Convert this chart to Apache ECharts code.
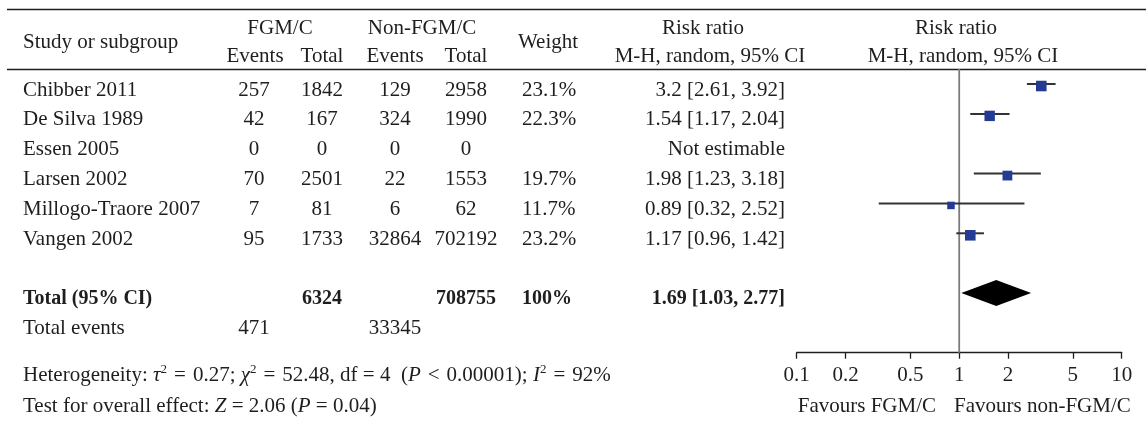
<!DOCTYPE html>
<html>
<head>
<meta charset="utf-8">
<script src="https://cdn.jsdelivr.net/npm/echarts@6/dist/echarts.min.js"></script>
<style>
  html, body { margin: 0; padding: 0; background: #ffffff; }
  #chart { width: 1146px; height: 424px; }
</style>
</head>
<body>
<div id="chart"></div>
<script>
// ---- Study data (risk ratio, M-H random effects) ----
const studies    = ['Chibber 2011', 'De Silva 1989', 'Essen 2005', 'Larsen 2002', 'Millogo-Traore 2007', 'Vangen 2002'];
const fgmEvents  = [257, 42, 0, 70, 7, 95];
const fgmTotal   = [1842, 167, 0, 2501, 81, 1733];
const nonEvents  = [129, 324, 0, 22, 6, 32864];
const nonTotal   = [2958, 1990, 0, 1553, 62, 702192];
const weights    = [23.1, 22.3, null, 19.7, 11.7, 23.2];
const rrEst      = [3.2, 1.54, null, 1.98, 0.89, 1.17];
const rrLow      = [2.61, 1.17, null, 1.23, 0.32, 0.96];
const rrHigh     = [3.92, 2.04, null, 3.18, 2.52, 1.42];

// Pooled estimate and totals
const pooledEst  = 1.69;
const pooledLow  = 1.03;
const pooledHigh = 2.77;
const totalFgm   = 6324;
const totalNon   = 708755;
const totalWeight = 100;
const eventsFgm  = 471;
const eventsNon  = 33345;

// Axis ticks of the forest plot
const tickValues = [0.1, 0.2, 0.5, 1, 2, 5, 10];

// ---- Layout ----
const FONT = 'Liberation Serif';
const FS = 21;
const FS_BOLD = 20;
const INK = '#1e1e1e';
const ROW_TOTAL = 8;
const ROW_EVENTS = 9;
const TEXT_DY = 6;          // table text sits slightly below the marker line
const GRID_TOP = 69.1;
const GRID_BOTTOM = 71.3;
const Y_MIN = 0.5, Y_MAX = 10;
const REG = FS + 'px "' + FONT + '"';

// column anchors in the table grid (x units = pixels)
const COL = {
  name:   { x: 23,  align: 'left' },
  fgmE:   { x: 254, align: 'center' },
  fgmT:   { x: 322, align: 'center' },
  nonE:   { x: 395, align: 'center' },
  nonT:   { x: 466, align: 'center' },
  weight: { x: 522, align: 'left' },
  rr:     { x: 785, align: 'right' }
};

const rows = studies.map((_, i) => i + 1);

function fmtCI(e, l, h) { return e + ' [' + l + ', ' + h + ']'; }

// Build the text cells of one column: [x, row, text, bold]
function column(key, values, extra) {
  const cells = values.map((v, i) => [COL[key].x, rows[i], v === null ? '' : String(v), 0]);
  (extra || []).forEach(e => cells.push([COL[key].x, e[0], String(e[1]), e[2] ? 1 : 0]));
  return cells;
}

const tableColumns = [
  { key: 'name',   data: column('name', studies, [[ROW_TOTAL, 'Total (95% CI)', true], [ROW_EVENTS, 'Total events', false]]) },
  { key: 'fgmE',   data: column('fgmE', fgmEvents, [[ROW_EVENTS, eventsFgm, false]]) },
  { key: 'fgmT',   data: column('fgmT', fgmTotal, [[ROW_TOTAL, totalFgm, true]]) },
  { key: 'nonE',   data: column('nonE', nonEvents, [[ROW_EVENTS, eventsNon, false]]) },
  { key: 'nonT',   data: column('nonT', nonTotal, [[ROW_TOTAL, totalNon, true]]) },
  { key: 'weight', data: column('weight', weights.map(w => w === null ? null : w + '%'), [[ROW_TOTAL, totalWeight + '%', true]]) },
  { key: 'rr',     data: column('rr', rrEst.map((e, i) => e === null ? 'Not estimable' : fmtCI(e, rrLow[i], rrHigh[i])),
                                [[ROW_TOTAL, fmtCI(pooledEst, pooledLow, pooledHigh), true]]) }
];

const textSeries = tableColumns.map(col => ({
  type: 'custom',
  xAxisIndex: 0, yAxisIndex: 0,
  silent: true,
  data: col.data,
  renderItem(params, api) {
    const p = api.coord([api.value(0), api.value(1)]);
    const d = col.data[params.dataIndex];
    return {
      type: 'text',
      x: p[0], y: p[1] + TEXT_DY,
      style: {
        text: d[2],
        fill: INK,
        font: d[3] ? 'bold ' + FS_BOLD + 'px "' + FONT + '"' : REG,
        align: COL[col.key].align,
        verticalAlign: 'middle'
      }
    };
  }
}));

// Forest marks: [low, high, estimate, row, weight]
const forestData = [];
rrEst.forEach((e, i) => {
  if (e !== null) forestData.push([rrLow[i], rrHigh[i], e, rows[i], weights[i]]);
});

function label(text, x, y, align) {
  return { type: 'text', x: x, y: y, silent: true,
           style: { text: text, font: REG, fill: INK, align: align || 'left', verticalAlign: 'middle' } };
}

const MS = '\u2004'; // spacing around math operators

const chart = echarts.init(document.getElementById('chart'), null, { renderer: 'canvas' });

const option = {
  animation: false,
  backgroundColor: '#ffffff',
  grid: [
    { left: 0, right: 0, top: GRID_TOP, bottom: GRID_BOTTOM },
    { left: 796.7, right: 24.3, top: GRID_TOP, bottom: GRID_BOTTOM }
  ],
  xAxis: [
    { gridIndex: 0, type: 'value', min: 0, max: 1146, show: false },
    {
      gridIndex: 1, type: 'log', logBase: 10, min: 0.1, max: 10,
      axisLine: { show: true, onZero: false, lineStyle: { color: INK, width: 1.3 } },
      axisTick: { show: true, inside: false, length: 6, customValues: tickValues, lineStyle: { color: INK, width: 1.3 } },
      axisLabel: {
        customValues: tickValues,
        margin: 12,
        fontFamily: FONT, fontSize: FS, color: INK,
        formatter: v => String(Number(Number(v).toPrecision(6)))
      },
      splitLine: { show: false },
      minorTick: { show: false }
    }
  ],
  yAxis: [
    { gridIndex: 0, type: 'value', min: Y_MIN, max: Y_MAX, inverse: true, show: false },
    { gridIndex: 1, type: 'value', min: Y_MIN, max: Y_MAX, inverse: true, show: false }
  ],
  series: [
    // line of no effect
    {
      type: 'line', xAxisIndex: 1, yAxisIndex: 1, silent: true,
      data: [[1, Y_MIN], [1, Y_MAX]],
      symbol: 'none',
      lineStyle: { color: '#7c7c7c', width: 1.8 },
      z: 1
    },
    // study confidence intervals and weighted squares
    {
      type: 'custom', xAxisIndex: 1, yAxisIndex: 1, silent: true,
      data: forestData,
      z: 3,
      renderItem(params, api) {
        const row = api.value(3);
        const lo = api.coord([api.value(0), row]);
        const hi = api.coord([api.value(1), row]);
        const mid = api.coord([api.value(2), row]);
        const s = 2.2 * Math.sqrt(api.value(4));
        return {
          type: 'group',
          children: [
            { type: 'line', shape: { x1: lo[0], y1: lo[1], x2: hi[0], y2: hi[1] },
              style: { stroke: '#333333', lineWidth: 2 } },
            { type: 'rect', shape: { x: mid[0] - s / 2, y: mid[1] - s / 2 + 2, width: s, height: s },
              style: { fill: '#243b96' } }
          ]
        };
      }
    },
    // pooled diamond
    {
      type: 'custom', xAxisIndex: 1, yAxisIndex: 1, silent: true,
      data: [[pooledLow, pooledHigh, pooledEst, ROW_TOTAL]],
      z: 3,
      renderItem(params, api) {
        const row = api.value(3);
        const lo = api.coord([api.value(0), row]);
        const hi = api.coord([api.value(1), row]);
        const mid = api.coord([api.value(2), row]);
        const h = 13;
        return {
          type: 'polygon',
          shape: { points: [[lo[0], lo[1]], [mid[0], mid[1] - h], [hi[0], hi[1]], [mid[0], mid[1] + h]] },
          style: { fill: '#000000' }
        };
      }
    }
  ].concat(textSeries),
  graphic: [
    // table rules
    { type: 'line', silent: true, shape: { x1: 7, y1: 9.5, x2: 1146, y2: 9.5 }, style: { stroke: INK, lineWidth: 1.5 } },
    { type: 'line', silent: true, shape: { x1: 7, y1: 69.5, x2: 1146, y2: 69.5 }, style: { stroke: INK, lineWidth: 1.5 } },
    // column headers
    label('Study or subgroup', 23, 42),
    label('FGM/C', 280, 28, 'center'),
    label('Events', 255, 56, 'center'),
    label('Total', 322, 56, 'center'),
    label('Non-FGM/C', 422, 28, 'center'),
    label('Events', 395, 56, 'center'),
    label('Total', 466, 56, 'center'),
    label('Weight', 548, 42, 'center'),
    label('Risk ratio', 703, 28, 'center'),
    label('M-H, random, 95% CI', 710, 56, 'center'),
    label('Risk ratio', 956, 28, 'center'),
    label('M-H, random, 95% CI', 963, 56, 'center'),
    // axis captions
    label('Favours FGM/C', 936, 406, 'right'),
    label('Favours non-FGM/C', 954, 406, 'left'),
    // statistics footnotes
    {
      type: 'text', x: 23, y: 375, silent: true,
      style: {
        text: 'Heterogeneity: {i|\u03C4}{s|2}' + MS + '=' + MS + '0.27; {i|\u03C7}{s|2}' + MS + '=' + MS +
              '52.48, df = 4\u2002({i|P}' + MS + '<' + MS + '0.00001); {i|I}{s|2}' + MS + '=' + MS + '92%',
        font: REG, fill: INK, verticalAlign: 'middle', lineHeight: 24,
        rich: {
          i: { fontFamily: FONT, fontSize: FS, fontStyle: 'italic', fill: INK, lineHeight: 24 },
          s: { fontFamily: FONT, fontSize: 13, fill: INK, verticalAlign: 'top', lineHeight: 24 }
        }
      }
    },
    {
      type: 'text', x: 23, y: 406, silent: true,
      style: {
        text: 'Test for overall effect: {i|Z} = 2.06 ({i|P} = 0.04)',
        font: REG, fill: INK, verticalAlign: 'middle', lineHeight: 24,
        rich: {
          i: { fontFamily: FONT, fontSize: FS, fontStyle: 'italic', fill: INK, lineHeight: 24 }
        }
      }
    }
  ]
};

chart.setOption(option);
</script>
</body>
</html>
